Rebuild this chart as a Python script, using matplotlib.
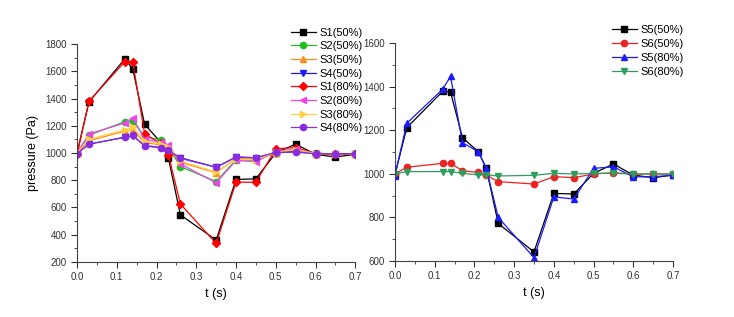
import matplotlib
matplotlib.use("Agg")
import matplotlib.pyplot as plt
from matplotlib.ticker import MultipleLocator

plt.rcParams['font.family'] = ['Liberation Sans', 'DejaVu Sans']

t = [0.0, 0.03, 0.12, 0.14, 0.17, 0.21, 0.23, 0.26, 0.35, 0.40, 0.45, 0.50, 0.55, 0.60, 0.65, 0.70]

# Left panel
s1_50 = [1000, 1375, 1690, 1620, 1210, 1080, 960, 545, 360, 805, 810, 1000, 1065, 990, 970, 990]
s2_50 = [1000, 1130, 1230, 1235, 1120, 1095, 1040, 900, 790, 950, 945, 1000, 1020, 1000, 990, 995]
s3_50 = [1000, 1090, 1160, 1170, 1075, 1060, 1035, 930, 855, 960, 955, 1000, 1020, 995, 990, 995]
s4_50 = [1000, 1065, 1115, 1125, 1055, 1040, 1020, 965, 895, 970, 965, 1000, 1010, 995, 990, 995]
s1_80 = [990, 1380, 1670, 1670, 1140, 1070, 985, 625, 335, 785, 785, 1030, 1040, 995, 990, 995]
s2_80 = [1000, 1140, 1220, 1260, 1100, 1080, 1060, 920, 780, 945, 935, 1010, 1030, 995, 995, 995]
s3_80 = [1000, 1100, 1170, 1190, 1085, 1065, 1045, 940, 860, 955, 950, 1005, 1025, 995, 995, 995]
s4_80 = [995, 1065, 1115, 1130, 1050, 1040, 1020, 960, 895, 970, 965, 1005, 1005, 995, 995, 995]

# Right panel
s5_50 = [995, 1212, 1378, 1375, 1166, 1101, 1025, 772, 641, 910, 907, 1002, 1045, 994, 982, 994]
s6_50 = [1000, 1030, 1048, 1048, 1014, 1006, 993, 964, 953, 987, 982, 999, 1005, 999, 999, 999]
s5_80 = [992, 1232, 1388, 1447, 1143, 1101, 1025, 800, 615, 894, 884, 1025, 1032, 986, 986, 994]
s6_80 = [1000, 1010, 1010, 1010, 1002, 995, 995, 990, 993, 1002, 999, 1002, 1002, 999, 999, 999]

left_series = [
    ("S1(50%)", s1_50, "#000000", "s"),
    ("S2(50%)", s2_50, "#1fbf1f", "o"),
    ("S3(50%)", s3_50, "#ff8c1a", "^"),
    ("S4(50%)", s4_50, "#1a1aff", "v"),
    ("S1(80%)", s1_80, "#ff0000", "D"),
    ("S2(80%)", s2_80, "#ee44ee", "<"),
    ("S3(80%)", s3_80, "#ffd040", ">"),
    ("S4(80%)", s4_80, "#8a2be2", "o"),
]
right_series = [
    ("S5(50%)", s5_50, "#000000", "s"),
    ("S6(50%)", s6_50, "#ee2222", "o"),
    ("S5(80%)", s5_80, "#1a1aff", "^"),
    ("S6(80%)", s6_80, "#2e9e5e", "v"),
]

fig = plt.figure(figsize=(7.34, 3.17), dpi=100)
ax1 = fig.add_axes([0.105, 0.174, 0.379, 0.687])
ax2 = fig.add_axes([0.538, 0.177, 0.379, 0.687])

for ax, series in ((ax1, left_series), (ax2, right_series)):
    for label, vals, color, mk in series:
        ms = 4.5 if mk != "D" else 4
        ax.plot(t, vals, color=color, marker=mk, markersize=ms, linewidth=0.9, label=label)
    ax.spines['top'].set_visible(False)
    ax.spines['right'].set_visible(False)
    ax.spines['left'].set_color('#444444')
    ax.spines['bottom'].set_color('#444444')
    ax.set_xlim(0, 0.7)
    ax.xaxis.set_major_locator(MultipleLocator(0.1))
    ax.xaxis.set_minor_locator(MultipleLocator(0.05))
    ax.tick_params(which='major', direction='out', length=4, labelsize=7, colors='#333333')
    ax.tick_params(which='minor', direction='out', length=2, colors='#333333')
    ax.set_xlabel("t (s)", fontsize=9, labelpad=4)

ax1.set_ylim(200, 1800)
ax1.yaxis.set_major_locator(MultipleLocator(200))
ax1.yaxis.set_minor_locator(MultipleLocator(100))
ax1.set_ylabel("pressure (Pa)", fontsize=9)
ax1.set_xticklabels([f"{v:.1f}" for v in ax1.get_xticks()])

ax2.set_ylim(600, 1600)
ax2.yaxis.set_major_locator(MultipleLocator(200))
ax2.yaxis.set_minor_locator(MultipleLocator(100))

leg1 = ax1.legend(loc='upper left', bbox_to_anchor=(285/734, 1 - 22/317),
                  bbox_transform=fig.transFigure, frameon=False, fontsize=8,
                  handlelength=2.3, handletextpad=0.3, labelspacing=0.33, borderpad=0)
leg2 = ax2.legend(loc='upper left', bbox_to_anchor=(606/734, 1 - 19/317),
                  bbox_transform=fig.transFigure, frameon=False, fontsize=8,
                  handlelength=2.3, handletextpad=0.3, labelspacing=0.36, borderpad=0)

fig.savefig("out.png", dpi=100)
